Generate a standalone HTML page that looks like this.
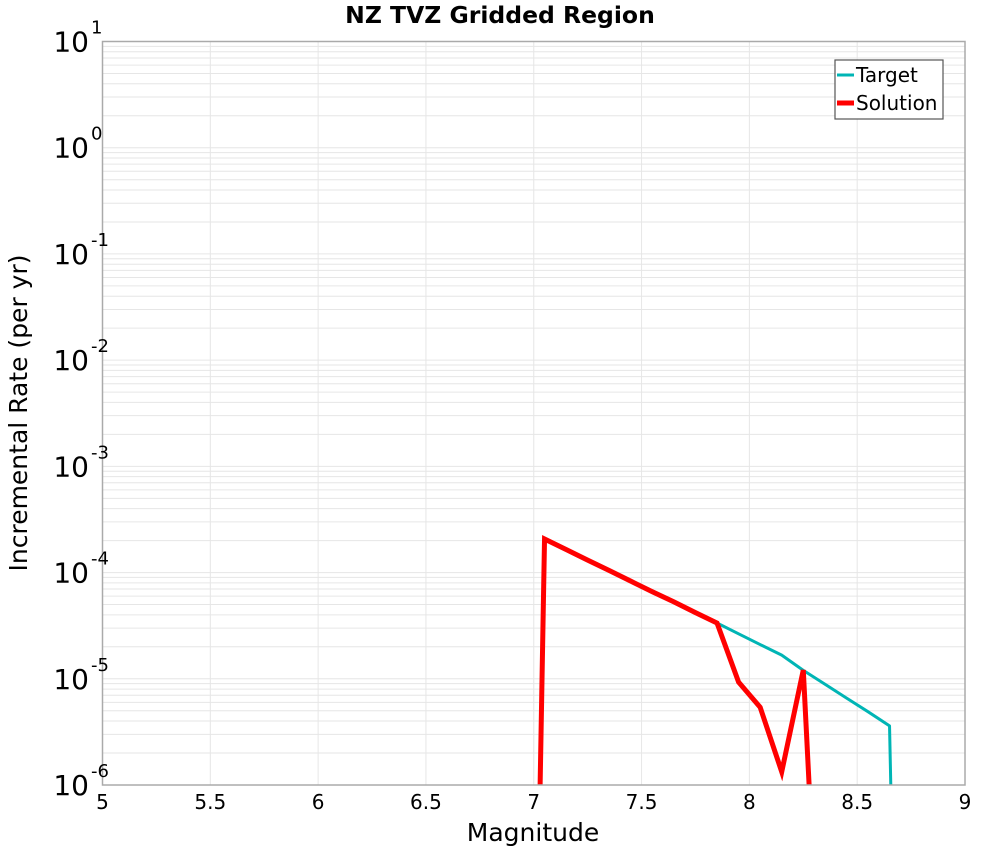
<!DOCTYPE html>
<html><head><meta charset="utf-8"><style>
html,body{margin:0;background:#fff;overflow:hidden;width:1000px;height:850px;}
svg{display:block;}
svg text{font-family:"DejaVu Sans","Liberation Sans",sans-serif;fill:#000;}
</style></head><body>
<svg id="chart" width="1000" height="850" xmlns="http://www.w3.org/2000/svg">
<g id="grid"></g>
<g id="series" clip-path="url(#clip)"></g>
<defs><clipPath id="clip"><rect x="102.5" y="41.5" width="862.5" height="743.5"/></clipPath></defs>
<rect x="102.5" y="41.5" width="862.5" height="743.5" fill="none" stroke="#aaa" stroke-width="1.5"/>
<g id="ticks"></g>
<text x="500" y="23" font-size="23.5" font-weight="bold" text-anchor="middle">NZ TVZ Gridded Region</text>
<text x="533" y="841" font-size="25" text-anchor="middle">Magnitude</text>
<text transform="translate(27,413) rotate(-90)" font-size="25" text-anchor="middle">Incremental Rate (per yr)</text>
<g>
<rect x="835" y="60" width="108" height="59" fill="#fff" stroke="#555" stroke-width="1.2"/>
<line x1="837" y1="75" x2="854" y2="75" stroke="#00b5b5" stroke-width="3"/>
<text x="856" y="82" font-size="20">Target</text>
<line x1="837" y1="103" x2="854" y2="103" stroke="#ff0000" stroke-width="5"/>
<text x="856" y="110" font-size="20">Solution</text>
</g>
</svg>
<script>
const mags = [6.95,7.05,7.15,7.25,7.35,7.45,7.55,7.65,7.75,7.85,7.95,8.05,8.15,8.25,8.35,8.45,8.55,8.65,8.75];
const targetRates = [1e-15,2.07e-4,1.65e-4,1.31e-4,1.045e-4,8.3e-5,6.6e-5,5.3e-5,4.2e-5,3.35e-5,2.65e-5,2.1e-5,1.67e-5,1.2e-5,8.9e-6,6.6e-6,4.9e-6,3.6e-6,1e-15];
const solutionRates = [1e-15,2.07e-4,1.65e-4,1.31e-4,1.045e-4,8.3e-5,6.6e-5,5.3e-5,4.2e-5,3.35e-5,9.3e-6,5.4e-6,1.33e-6,1.21e-5,1.2e-9,1e-15,1e-15,1e-15,1e-15];
const xTicks = [5,5.5,6,6.5,7,7.5,8,8.5,9];
const xTickLabels = ["5","5.5","6","6.5","7","7.5","8","8.5","9"];
const yExps = [1,0,-1,-2,-3,-4,-5,-6];

const NS="http://www.w3.org/2000/svg";
const L=102.5,R=965,T=41.5,B=785;
const xs=m=>L+(m-5)/(9-5)*(R-L);
const ys=v=>T+(1-Math.log10(v))/7*(B-T);
function mk(tag,attrs,parent){const e=document.createElementNS(NS,tag);for(const k in attrs)e.setAttribute(k,attrs[k]);parent.appendChild(e);return e;}
const grid=document.getElementById('grid'),ticks=document.getElementById('ticks'),series=document.getElementById('series');
xTicks.forEach((t,i)=>{
  const x=xs(t);
  const gl=mk('line',{x1:x,x2:x,y1:T,y2:B,stroke:'#e6e6e6','stroke-width':1},grid);
  
  
  const tx=mk('text',{x:x,y:809,'font-size':20,'text-anchor':'middle'},ticks);
  tx.textContent=xTickLabels[i];
  
  
});
for(let e=-6;e<1;e++){for(let k=1;k<10;k++){
  const y=ys(k*Math.pow(10,e));
  const gl=mk('line',{x1:L,x2:R,y1:y,y2:y,stroke:'#e6e6e6','stroke-width':1},grid);
  
  
}}
yExps.forEach(e=>{
  const y=ys(Math.pow(10,e));
  const tx=mk('text',{x:89,y:y+10,'font-size':28,'text-anchor':'end'},ticks);
  tx.textContent='10';
  
  
  const sup=mk('text',{x:91,y:y-8,'font-size':18},ticks);
  sup.textContent=String(e);
  
  
});
function pts(arr){return mags.map((m,i)=>xs(m)+','+ys(arr[i])).join(' ');}
const tl=mk('polyline',{points:pts(targetRates),fill:'none',stroke:'#00b5b5','stroke-width':3,'stroke-linejoin':'round'},series);


const sl=mk('polyline',{points:pts(solutionRates),fill:'none',stroke:'#ff0000','stroke-width':5,'stroke-linejoin':'miter'},series);


</script>
</body></html>
